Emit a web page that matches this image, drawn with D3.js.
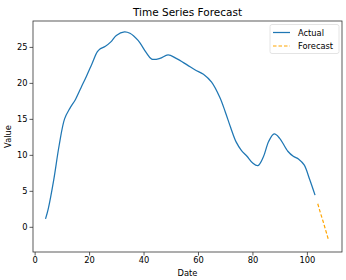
<!DOCTYPE html>
<html><head><meta charset="utf-8">
<script src="https://cdn.jsdelivr.net/npm/d3@7"></script>
<style>body{margin:0;background:#fff}svg{display:block}text{font-family:"DejaVu Sans",sans-serif;fill:#000}</style>
</head><body><svg id="c" width="346" height="280"></svg>
<script>
const actualDates = [4,5,7,9,11,13,15,17,19,21,23,24,26,28,30,33,35,38,41,43,46,49,52,56,59,62,65,68,70,72,74,76,78,80,82,84,86,88,90,93,95,97,99,101,103];
const actualValues = [1.1,2.5,6.5,11.3,15.0,16.5,17.7,19.3,20.9,22.6,24.3,24.7,25.1,25.7,26.6,27.1,26.9,25.9,24.2,23.3,23.4,23.9,23.4,22.5,21.8,21.2,20.1,18.0,16.0,13.8,11.8,10.6,9.8,8.9,8.5,9.7,11.9,12.9,12.3,10.5,9.8,9.4,8.6,6.6,4.4];
const forecastDates = [104,105,106,107,108];
const forecastValues = [3.2,1.9,0.7,-0.6,-1.9];
const xTicks = [0,20,40,60,80,100];
const yTicks = [0,5,10,15,20,25];

const svg = d3.select("#c");
const L=33,R=342,T=21,B=252;
const x = d3.scaleLinear().domain([-0.6,112.9]).range([L,R]);
const y = d3.scaleLinear().domain([-3.5,28.6]).range([B,T]);

const xa = svg.append("g").attr("transform",`translate(0,${B})`).call(d3.axisBottom(x).tickValues(xTicks).tickSize(3.5).tickPadding(2).tickFormat(d3.format("d")));
const ya = svg.append("g").attr("transform",`translate(${L},0)`).call(d3.axisLeft(y).tickValues(yTicks).tickSize(3.5).tickPadding(2).tickFormat(d3.format("d")));
[xa,ya].forEach(a=>{a.select(".domain").remove();a.selectAll("text").attr("font-size",8.3).attr("font-family","DejaVu Sans");a.selectAll("line").attr("stroke","#333").attr("stroke-width",0.8);});

const line = d3.line().x(d=>x(d[0])).y(d=>y(d[1])).curve(d3.curveCatmullRom.alpha(0.5));
svg.append("path").datum(actualDates.map((d,i)=>[d,actualValues[i]])).attr("d",line).attr("fill","none").attr("stroke","#1f77b4").attr("stroke-width",1.25);
svg.append("path").datum(forecastDates.map((d,i)=>[d,forecastValues[i]])).attr("d",d3.line().x(d=>x(d[0])).y(d=>y(d[1]))).attr("fill","none").attr("stroke","#ffa500").attr("stroke-width",1.2).attr("stroke-dasharray","3.5,2");

svg.append("rect").attr("x",L).attr("y",T).attr("width",R-L).attr("height",B-T).attr("fill","none").attr("stroke","#333").attr("stroke-width",0.8);

svg.append("text").attr("x",(L+R)/2).attr("y",16).attr("text-anchor","middle").attr("font-size",10.5).text("Time Series Forecast");
svg.append("text").attr("x",(L+R)/2).attr("y",276).attr("text-anchor","middle").attr("font-size",8.3).text("Date");
svg.append("text").attr("transform",`translate(11,${(T+B)/2}) rotate(-90)`).attr("text-anchor","middle").attr("font-size",8.3).text("Value");

const lg = svg.append("g");
lg.append("rect").attr("x",270).attr("y",24.5).attr("width",69).attr("height",29).attr("rx",2).attr("fill","#fff").attr("stroke","#ddd").attr("stroke-width",0.8);
lg.append("line").attr("x1",273).attr("x2",290).attr("y1",32.5).attr("y2",32.5).attr("stroke","#1f77b4").attr("stroke-width",1.25);
lg.append("line").attr("x1",273).attr("x2",290).attr("y1",46).attr("y2",46).attr("stroke","#ffa500").attr("stroke-width",1.2).attr("stroke-dasharray","3.5,2");
lg.append("text").attr("x",298).attr("y",35.5).attr("font-size",8.3).text("Actual");
lg.append("text").attr("x",298).attr("y",49).attr("font-size",8.3).text("Forecast");
</script></body></html>
